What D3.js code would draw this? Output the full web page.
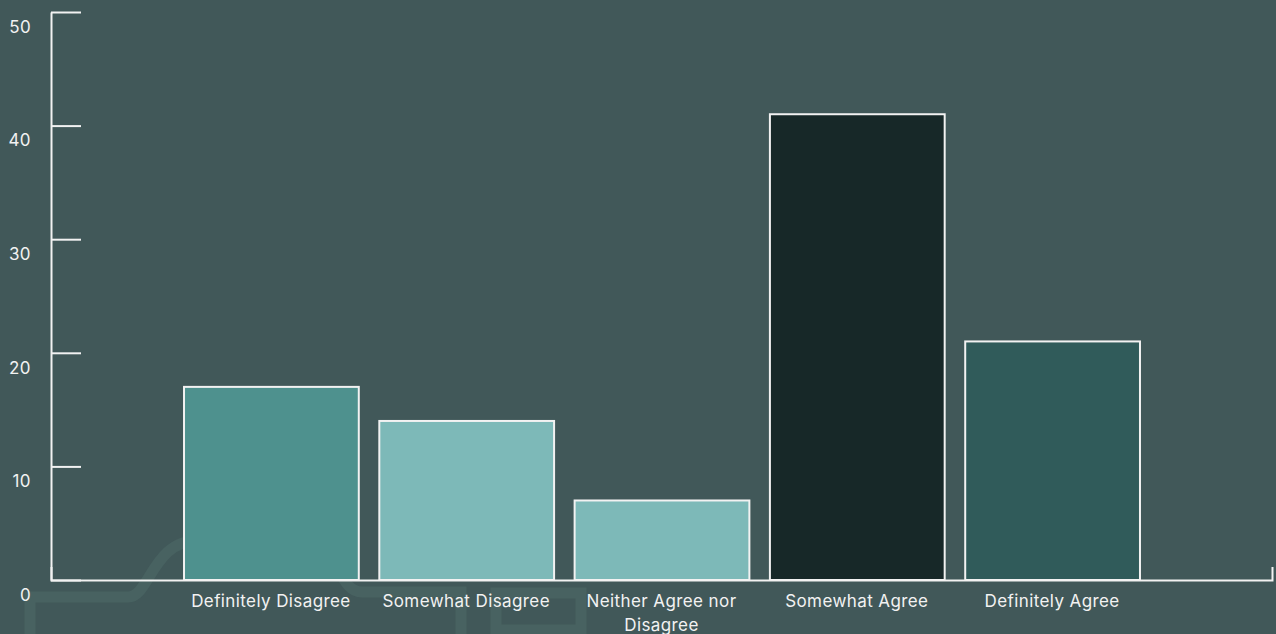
<!DOCTYPE html>
<html>
<head>
<meta charset="utf-8">
<script src="https://cdn.jsdelivr.net/npm/d3@7"></script>
<style>
  html, body { margin: 0; padding: 0; background: #415859; }
  svg { display: block; }
  text { font-family: Inter, Roboto, sans-serif; fill: #f2f2f2; }
</style>
</head>
<body>
<svg id="chart" width="1276" height="634"></svg>
<script>
const categories = ["Definitely Disagree", "Somewhat Disagree", "Neither Agree nor Disagree", "Somewhat Agree", "Definitely Agree"];
const values = [17, 14, 7, 41, 21];
const barColors = ["#4e918e", "#7db9b8", "#7db9b8", "#172828", "#305b5a"];
const yTicks = [0, 10, 20, 30, 40, 50];

const W = 1276, H = 634;
const FONT = "Inter, Roboto, sans-serif";
const svg = d3.select("#chart");

svg.append("rect").attr("width", W).attr("height", H).attr("fill", "#415859");

// faint background watermark
const wm = svg.append("g").attr("fill", "none").attr("stroke", "#486261").attr("stroke-width", 11);
wm.append("path").attr("d", "M30,640 V597 H128 C150,597 152,540 200,540 H300 C340,540 336,592 362,592 H461 V640");
wm.append("rect").attr("x", 496).attr("y", 593).attr("width", 85).attr("height", 37);

const x = d3.scaleBand().domain(categories).range([51, 1272]).paddingInner(0.1).paddingOuter(0.676);
const y = d3.scaleLinear().domain([0, 50]).range([580, 12]);

// bars
svg.append("g").selectAll("rect").data(categories).join("rect")
  .attr("x", d => x(d) + 1)
  .attr("y", (d, i) => y(values[i]))
  .attr("width", x.bandwidth() - 1)
  .attr("height", (d, i) => y(0) - y(values[i]))
  .attr("fill", (d, i) => barColors[i])
  .attr("stroke", "#f2f2f2")
  .attr("stroke-width", 2);

// y axis
const yAxis = svg.append("g").attr("transform", "translate(51,0)")
  .call(d3.axisRight(y).tickValues(yTicks).tickSize(30).tickSizeOuter(0).tickFormat(d3.format("d")));
yAxis.select(".domain").attr("stroke", "#f2f2f2").attr("stroke-width", 2);
yAxis.selectAll(".tick line").attr("stroke", "#f2f2f2").attr("stroke-width", 2);
yAxis.selectAll(".tick text")
  .attr("x", -20).attr("dy", "1.2em").attr("text-anchor", "end")
  .attr("font-size", 17).attr("letter-spacing", 0.4).attr("fill", "#f2f2f2")
  .style("font-family", FONT);

// x axis
const xAxis = svg.append("g").attr("transform", "translate(0,580)")
  .call(d3.axisBottom(x).tickSize(0).tickSizeOuter(-13).tickPadding(15));
xAxis.select(".domain").attr("stroke", "#f2f2f2").attr("stroke-width", 2);
xAxis.selectAll(".tick text")
  .attr("font-size", 17).attr("letter-spacing", 0.4).attr("fill", "#f2f2f2")
  .style("font-family", FONT)
  .call(wrap, x.bandwidth());

function wrap(sel, width) {
  sel.each(function() {
    const t = d3.select(this);
    const words = t.text().split(/\s+/);
    const yy = t.attr("y"), dy = parseFloat(t.attr("dy")) || 0;
    t.text(null);
    let line = [], lineNum = 0;
    let tspan = t.append("tspan").attr("x", 0).attr("y", yy).attr("dy", dy + "em");
    for (const w of words) {
      line.push(w);
      tspan.text(line.join(" "));
      if (tspan.node().getComputedTextLength() > width - 5 && line.length > 1) {
        line.pop();
        tspan.text(line.join(" "));
        line = [w];
        tspan = t.append("tspan").attr("x", 0).attr("y", yy).attr("dy", (++lineNum * 1.38 + dy) + "em").text(w);
      }
    }
  });
}
</script>
</body>
</html>
